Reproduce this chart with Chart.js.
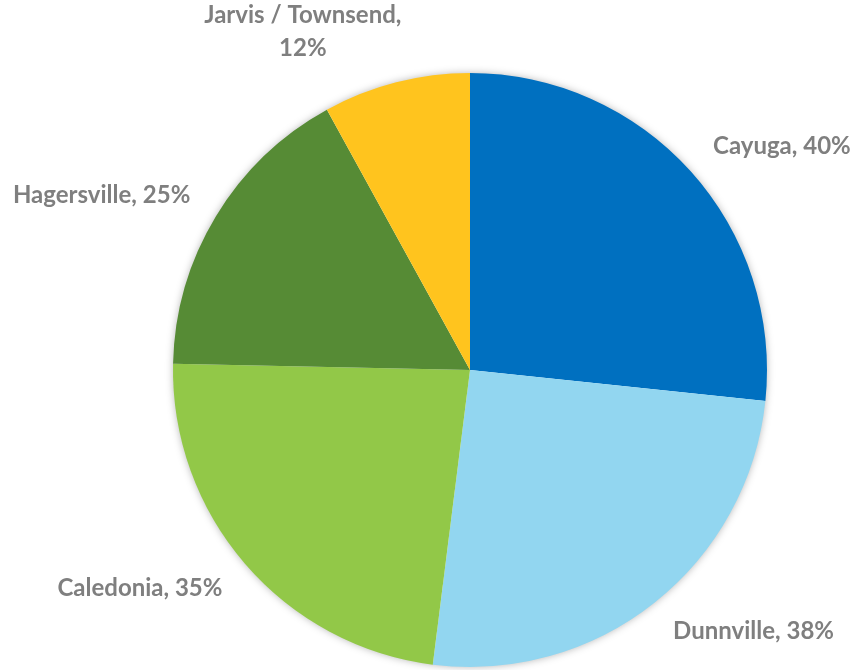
<!DOCTYPE html>
<html>
<head>
<meta charset="utf-8">
<script src="https://cdn.jsdelivr.net/npm/chart.js@4/dist/chart.umd.min.js"></script>
<style>
    html, body { margin: 0; padding: 0; background: #fff; }
    #wrap { width: 854px; height: 670px; }
</style>
</head>
<body>
<div id="wrap"><canvas id="pie"></canvas></div>
<script>
const categories = ['Cayuga', 'Dunnville', 'Caledonia', 'Hagersville', 'Jarvis / Townsend'];
const percents = [40, 38, 35, 25, 12];
const sliceColors = ['#0070C0', '#92D6F0', '#92C848', '#568B35', '#FFC41E'];

// label lines: category and value, Jarvis wraps onto two lines
function labelLines(i) {
    const text = categories[i] + ', ' + percents[i] + '%';
    if (text.length > 18) return [categories[i] + ',', percents[i] + '%'];
    return [text];
}

const pieShadow = {
    id: 'pieShadow',
    beforeDatasetsDraw(chart) {
        const arc = chart.getDatasetMeta(0).data[0];
        if (!arc) return;
        const ctx = chart.ctx;
        ctx.save();
        ctx.shadowColor = 'rgba(0,0,0,0.35)';
        ctx.shadowBlur = 8;
        ctx.fillStyle = '#ffffff';
        ctx.beginPath();
        ctx.arc(arc.x, arc.y, arc.outerRadius - 1, 0, Math.PI * 2);
        ctx.fill();
        ctx.restore();
    }
};

const outsideLabels = {
    id: 'outsideLabels',
    afterDatasetsDraw(chart) {
        const ctx = chart.ctx;
        const meta = chart.getDatasetMeta(0);
        const lineHeight = 33;
        ctx.save();
        ctx.font = 'bold 24px Lato, "Open Sans", sans-serif';
        ctx.fillStyle = '#7F7F7F';
        ctx.textBaseline = 'middle';
        ctx.textAlign = 'left';
        meta.data.forEach((arc, i) => {
            const mid = (arc.startAngle + arc.endAngle) / 2;
            const r = arc.outerRadius + 30;
            const ax = arc.x + Math.cos(mid) * r;
            const ay = arc.y + Math.sin(mid) * r;
            const lines = labelLines(i);
            const widths = lines.map(l => ctx.measureText(l).width);
            const w = Math.max(...widths);
            const f = Math.min(1, Math.max(0, 0.5 - 1.75 * Math.cos(mid)));
            const left = ax - f * w;
            let firstY;
            if (Math.sin(mid) < 0) {
                firstY = ay - 5 - (lines.length - 1) * lineHeight;
            } else {
                firstY = ay + 5;
            }
            lines.forEach((l, k) => {
                ctx.fillText(l, left + (w - widths[k]) / 2, firstY + k * lineHeight);
            });
        });
        ctx.restore();
    }
};

new Chart(document.getElementById('pie'), {
    type: 'pie',
    data: {
        labels: categories,
        datasets: [{
            data: percents,
            backgroundColor: sliceColors,
            borderWidth: 0
        }]
    },
    options: {
        responsive: true,
        maintainAspectRatio: false,
        animation: false,
        layout: {
            padding: { top: 73, bottom: 3, left: 173, right: 87 }
        },
        plugins: {
            legend: { display: false },
            tooltip: { enabled: false }
        }
    },
    plugins: [pieShadow, outsideLabels]
});
</script>
</body>
</html>
